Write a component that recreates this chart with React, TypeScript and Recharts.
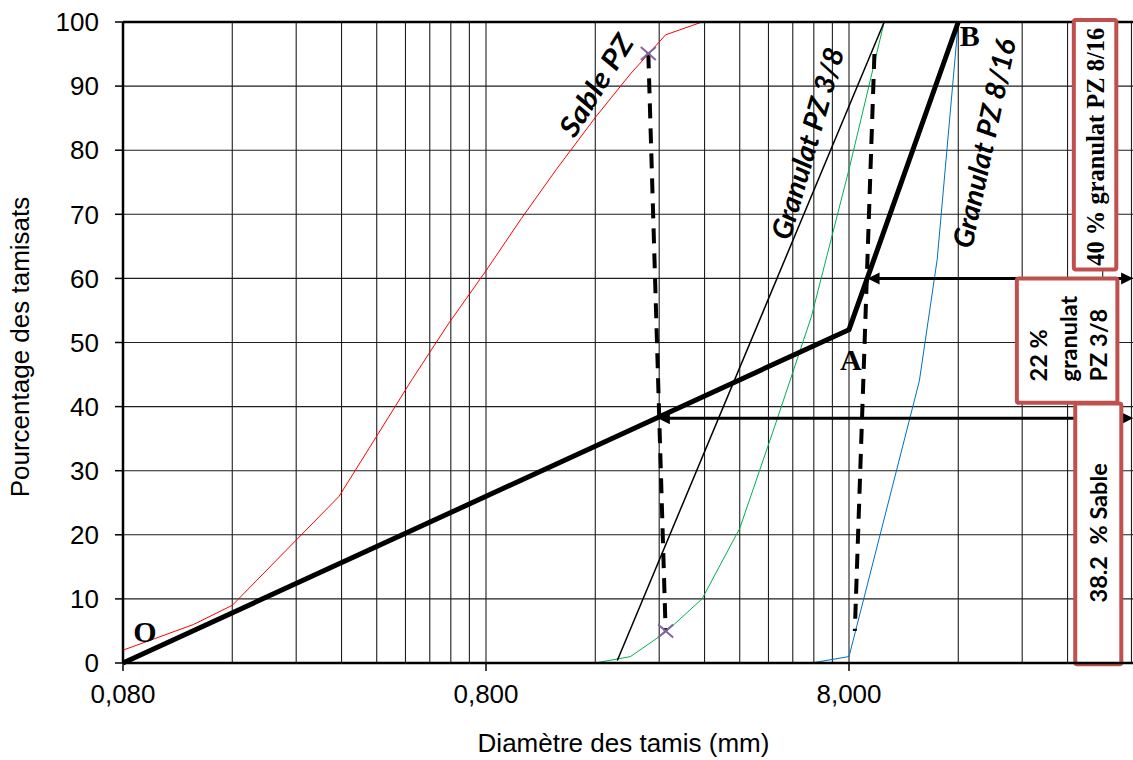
import React from 'react';
import {
  ComposedChart, Line, XAxis, YAxis, CartesianGrid,
  ReferenceLine, ReferenceDot,
} from 'recharts';

// ---- data (sieve opening in mm, % passing) ----
const sableSieves = [0.08, 0.125, 0.16, 0.315, 0.4, 0.5, 0.63, 0.8, 1, 1.25, 1.6, 2, 2.5, 3.15];
const sablePassing = [2, 6, 9, 26, 35.4, 44.2, 52.9, 61.2, 69.3, 77, 85.1, 91.9, 98, 100];

const g38Sieves = [1.6, 2, 2.5, 3.15, 4, 5, 6.3, 8, 10];
const g38Passing = [0, 1, 4.8, 10, 21, 37, 54, 77, 100];

const g816Sieves = [6.3, 8, 12.5, 14, 16];
const g816Passing = [0, 1, 44, 63, 100];

const line38Sieves = [1.84, 10];
const line38Passing = [0.4, 100];

const mixSieves = [0.08, 8, 16]; // O, A, B
const mixPassing = [0, 52, 100];

const dashSableSieves = [2.24, 2.5];
const dashSablePassing = [95.1, 5];
const dashGravSieves = [9.4, 8.3];
const dashGravPassing = [95, 5];

// arrows: y level, left tip, right tip
const arrowSable = { y: 38.2, from: 2.38, to: 48.5 };
const arrow38 = { y: 60, from: 9.0, to: 48.5 };

// boxes (data coordinates)
const box816 = { x1: 33.3, x2: 43.6, y1: 61.4, y2: 100.3 };
const box38 = { x1: 23.2, x2: 43.9, y1: 40.6, y2: 60.0 };
const boxSable = { x1: 33.6, x2: 45.0, y1: -0.2, y2: 40.5 };

const xLabelTicks = [0.08, 0.8, 8];
const xGrid = [
  0.08, 0.16, 0.24, 0.32, 0.4, 0.48, 0.56, 0.64, 0.72,
  0.8, 1.6, 2.4, 3.2, 4.0, 4.8, 5.6, 6.4, 7.2,
  8, 16, 24, 32, 40, 48, 56, 64, 72, 80,
];
const yTicks = [0, 10, 20, 30, 40, 50, 60, 70, 80, 90, 100];

const pts = (xs: number[], ys: number[]) => xs.map((d, i) => ({ d, p: ys[i] }));

const sableData = pts(sableSieves, sablePassing);
const g38Data = pts(g38Sieves, g38Passing);
const g816Data = pts(g816Sieves, g816Passing);
const line38Data = pts(line38Sieves, line38Passing);
const mixData = pts(mixSieves, mixPassing);
const dashSableData = pts(dashSableSieves, dashSablePassing);
const dashGravData = pts(dashGravSieves, dashGravPassing);

const SANS = '"Liberation Sans", Arial, sans-serif';
const SERIF = '"Liberation Serif", "Times New Roman", serif';
const CAL = 'Lato, "Open Sans", sans-serif';
const BOXRED = '#C0504D';
const GRID = '#1e1e1e';
const TICK_SIZE = 8;
const TICK_MARGIN = 14;

const fmt = (v: number) => v.toFixed(3).replace('.', ',');

const XTick = (p: any) => {
  const { x, y, payload } = p;
  const v = payload?.value;
  const isMajor = xLabelTicks.some((t) => Math.abs(t - v) < 1e-9);
  if (!isMajor) return <g />;
  const y0 = y - TICK_MARGIN - TICK_SIZE;
  return (
    <g>
      <line x1={x} x2={x} y1={y0} y2={y0 + TICK_SIZE} stroke="#000" strokeWidth={1.5} />
      <text x={x} y={y} dy="0.71em" textAnchor="middle" fontFamily={SANS} fontSize={26} fill="#000">{fmt(v)}</text>
    </g>
  );
};

const XMark = (p: any) => {
  const { cx, cy, index } = p;
  if (cx == null || cy == null) return <g key={`xm-${index}`} />;
  const sx = 7.5, sy = 6.5;
  return (
    <g key={`xm-${index}`}>
      <line x1={cx - sx} y1={cy - sy} x2={cx + sx} y2={cy + sy} stroke="#7F63A1" strokeWidth={2} />
      <line x1={cx - sx} y1={cy + sy} x2={cx + sx} y2={cy - sy} stroke="#7F63A1" strokeWidth={2} />
    </g>
  );
};

const ArrowShape = (p: any) => {
  const { x1, y1, x2, y2 } = p;
  const L = 12, H = 6;
  return (
    <g>
      <line x1={x1 + 6} y1={y1} x2={x2 - 6} y2={y2} stroke="#000" strokeWidth={3} />
      <polygon points={`${x1},${y1} ${x1 + L},${y1 - H} ${x1 + L},${y1 + H}`} fill="#000" />
      <polygon points={`${x2},${y2} ${x2 - L},${y2 - H} ${x2 - L},${y2 + H}`} fill="#000" />
    </g>
  );
};

const rectOf = (p: any) => {
  const x = Math.min(p.x1, p.x2), y = Math.min(p.y1, p.y2);
  return { x, y, width: Math.abs(p.x2 - p.x1), height: Math.abs(p.y2 - p.y1) };
};

const rotLabel = (text: string, angle: number, len: number) => (p: any) => {
  const { cx, cy } = p;
  return (
    <text
      x={cx} y={cy}
      transform={`rotate(${angle} ${cx} ${cy})`}
      textAnchor="middle" dominantBaseline="central"
      fontFamily={CAL} fontWeight="bold" fontStyle="italic" fontSize={28}
      textLength={len} lengthAdjust="spacingAndGlyphs"
      fill="#000"
    >{text}</text>
  );
};

const letter = (t: string) => (p: any) => (
  <text x={p.cx} y={p.cy} textAnchor="middle" dominantBaseline="central"
    fontFamily={SERIF} fontWeight="bold" fontSize={30} fill="#000">{t}</text>
);

const Box816 = (p: any) => {
  const { x, y, width, height } = rectOf(p);
  const tx = x + 30.3, ty = y + height / 2 + 2;
  return (
    <g>
      <rect x={x} y={y} width={width} height={height} rx={2} fill="#fff" stroke={BOXRED} strokeWidth={4} />
      <text x={tx} y={ty} transform={`rotate(-90 ${tx} ${ty})`} textAnchor="middle"
        fontFamily={SERIF} fontWeight="bold" fontSize={24.5} fill="#000">40 % granulat PZ 8/16</text>
    </g>
  );
};

const Box38 = (p: any) => {
  const { x, y, width, height } = rectOf(p);
  const by = y + height - 21.3;
  const lines = ['22 %', 'granulat', 'PZ 3/8'];
  const offs = [29.7, 59.7, 89.7];
  return (
    <g>
      <rect x={x} y={y} width={width} height={height} rx={2} fill="#fff" stroke={BOXRED} strokeWidth={4} />
      {lines.map((l, i) => (
        <text key={l} x={x + offs[i]} y={by} transform={`rotate(-90 ${x + offs[i]} ${by})`}
          textAnchor="start" fontFamily={CAL} fontWeight="bold" fontSize={23.5} fill="#000">{l}</text>
      ))}
    </g>
  );
};

const BoxSable = (p: any) => {
  const { x, y, width, height } = rectOf(p);
  const tx = x + 31.4, ty = y + height / 2 - 1;
  return (
    <g>
      <rect x={x} y={y} width={width} height={height} rx={2} fill="#fff" stroke={BOXRED} strokeWidth={4} />
      <text x={tx} y={ty} transform={`rotate(-90 ${tx} ${ty})`} textAnchor="middle"
        fontFamily={CAL} fontWeight="bold" fontSize={23.5} fill="#000" xmlSpace="preserve">38.2  % Sable</text>
    </g>
  );
};

const XTitle = (p: any) => {
  const vb = p.viewBox || {};
  const x = (vb.x ?? 123) + 500.5;
  const y = (vb.y ?? 663) + 89;
  return (
    <text x={x} y={y} textAnchor="middle" fontFamily={SANS} fontSize={26} fill="#000">
      Diamètre des tamis (mm)
    </text>
  );
};

const YTitle = (p: any) => {
  const vb = p.viewBox || {};
  const x = (vb.x ?? 0) + 29;
  const y = (vb.y ?? 22) + (vb.height ?? 641) / 2 + 4.5;
  return (
    <text x={x} y={y} transform={`rotate(-90 ${x} ${y})`} textAnchor="middle"
      fontFamily={SANS} fontSize={26} fill="#000">
      Pourcentage des tamisats
    </text>
  );
};

const seg = (b: { x1: number; x2: number; y1: number; y2: number }) =>
  [{ x: b.x1, y: b.y2 }, { x: b.x2, y: b.y1 }];

export default function App() {
  return (
    <div style={{ position: 'absolute', left: 0, top: 0, width: 1133, height: 760, overflow: 'hidden', background: '#fff' }}>
      <ComposedChart width={1240} height={760} margin={{ top: 22, right: 28, bottom: 0, left: 0 }}>
        <CartesianGrid stroke={GRID} strokeWidth={1.1} />
        <XAxis
          dataKey="d" type="number" scale="log" domain={[0.08, 80]} allowDataOverflow
          ticks={xGrid} interval={0} height={97}
          tick={<XTick />} tickLine={false}
          tickSize={TICK_SIZE} tickMargin={TICK_MARGIN}
          axisLine={{ stroke: '#000', strokeWidth: 2.5 }}
          label={<XTitle />}
        />
        <YAxis
          type="number" domain={[0, 100]} ticks={yTicks} interval={0} width={123}
          tick={{ fontSize: 26, fill: '#000', fontFamily: SANS }}
          tickSize={8} tickMargin={16}
          axisLine={{ stroke: '#000', strokeWidth: 2.5 }} tickLine={{ stroke: '#000', strokeWidth: 1.5 }}
          label={<YTitle />}
        />

        <Line data={sableData} dataKey="p" type="linear" stroke="#FF0000" strokeWidth={1} dot={false} isAnimationActive={false} />
        <Line data={g38Data} dataKey="p" type="linear" stroke="#00B050" strokeWidth={1} dot={false} isAnimationActive={false} />
        <Line data={g816Data} dataKey="p" type="linear" stroke="#0070C0" strokeWidth={1} dot={false} isAnimationActive={false} />
        <Line data={line38Data} dataKey="p" type="linear" stroke="#000" strokeWidth={1.5} dot={false} isAnimationActive={false} />
        <Line data={mixData} dataKey="p" type="linear" stroke="#000" strokeWidth={5} dot={false} isAnimationActive={false} />
        <Line data={dashSableData} dataKey="p" type="linear" stroke="#000" strokeWidth={4} strokeDasharray="15 10" dot={XMark} isAnimationActive={false} />
        <Line data={dashGravData} dataKey="p" type="linear" stroke="#000" strokeWidth={4} strokeDasharray="15 10" dot={false} isAnimationActive={false} />

        <ReferenceLine y={100} stroke="#000" strokeWidth={2.5} />
        <ReferenceLine segment={[{ x: arrowSable.from, y: arrowSable.y }, { x: arrowSable.to, y: arrowSable.y }]} ifOverflow="visible" shape={ArrowShape} />
        <ReferenceLine segment={[{ x: arrow38.from, y: arrow38.y }, { x: arrow38.to, y: arrow38.y }]} ifOverflow="visible" shape={ArrowShape} />

        <ReferenceLine segment={seg(box816)} ifOverflow="visible" shape={Box816} />
        <ReferenceLine segment={seg(box38)} ifOverflow="visible" shape={Box38} />
        <ReferenceLine segment={seg(boxSable)} ifOverflow="visible" shape={BoxSable} />

        <ReferenceDot x={1.6} y={90.2} r={1} ifOverflow="visible" shape={rotLabel('Sable PZ', -58, 114)} />
        <ReferenceDot x={6.12} y={81.1} r={1} ifOverflow="visible" shape={rotLabel('Granulat PZ 3/8', -74, 198)} />
        <ReferenceDot x={18.75} y={81.1} r={1} ifOverflow="visible" shape={rotLabel('Granulat PZ 8/16', -78, 213)} />
        <ReferenceDot x={0.092} y={4.9} r={1} ifOverflow="visible" shape={letter('O')} />
        <ReferenceDot x={8.1} y={47.3} r={1} ifOverflow="visible" shape={letter('A')} />
        <ReferenceDot x={17.2} y={97.9} r={1} ifOverflow="visible" shape={letter('B')} />
      </ComposedChart>
    </div>
  );
}
